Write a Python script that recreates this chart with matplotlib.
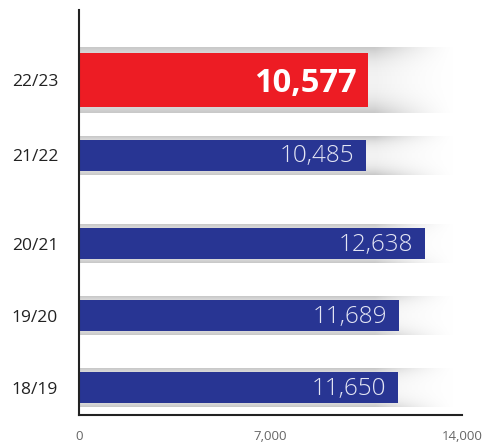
import numpy as np
import matplotlib.pyplot as plt

seasons = ["22/23", "21/22", "20/21", "19/20", "18/19"]
values = [10577, 10485, 12638, 11689, 11650]
tick_values = [0, 7000, 14000]
tick_labels = ["0", "7,000", "14,000"]

# layout (axes uses pixel-like y units, top to bottom)
centers = [80, 155, 243.5, 315.5, 387.5]
heights = [54, 31, 31, 31, 31]
pads = [6, 4, 4, 4, 4]

RED = "#ED1C24"
BLUE = "#283593"


def main():
    plt.rcParams['font.family'] = ['Open Sans', 'DejaVu Sans']
    fig = plt.figure(figsize=(4.85, 4.45), dpi=100)
    ax = fig.add_axes([79 / 485, 30 / 445, 383 / 485, 405 / 445])
    ax.set_xlim(0, 14000)
    ax.set_ylim(415, 10)

    fade_start = 10800
    fade_end = 13750
    xs = np.linspace(0, fade_end, 300)
    ts = np.linspace(-1, 1, 40)
    alpha_x = np.clip((fade_end - xs) / (fade_end - fade_start), 0, 1) ** 1.5
    gray_y = 0.95 - 0.16 * np.abs(ts) ** 2.5
    for i, (c, h, p, v) in enumerate(zip(centers, heights, pads, values)):
        # shadow band behind each bar, fading out to the right
        img = np.zeros((len(ts), len(xs), 4))
        img[..., :3] = gray_y[:, None, None]
        img[..., 3] = alpha_x[None, :]
        ax.imshow(img, extent=[0, fade_end, c + h / 2 + p, c - h / 2 - p],
                  aspect='auto', interpolation='bilinear', zorder=1)
        color = RED if i == 0 else BLUE
        ax.barh(c, v, height=h, color=color, zorder=2)
        if i == 0:
            ax.text(v - 430, c + 3, f"{v:,}", color="white", fontsize=23.5,
                    fontweight='bold', ha='right', va='center', zorder=3)
        else:
            ax.text(v - 430, c + 1, f"{v:,}", color="#E4E6F4", fontsize=17.5,
                    fontweight='light', ha='right', va='center', zorder=3)

    ax.set_yticks(centers)
    ax.set_yticklabels(seasons, fontsize=12.5, color="#222222")
    ax.set_xticks(tick_values)
    ax.set_xticklabels(tick_labels, fontsize=9.5, color="#666666")
    ax.tick_params(axis='y', length=0, pad=15)
    ax.tick_params(axis='x', length=0, pad=11)
    for s in ['top', 'right']:
        ax.spines[s].set_visible(False)
    ax.spines['left'].set_color("#222222")
    ax.spines['bottom'].set_color("#222222")
    ax.spines['left'].set_linewidth(1.5)
    ax.spines['bottom'].set_linewidth(1.5)

    fig.savefig("out.png", dpi=100)


if __name__ == "__main__":
    main()
